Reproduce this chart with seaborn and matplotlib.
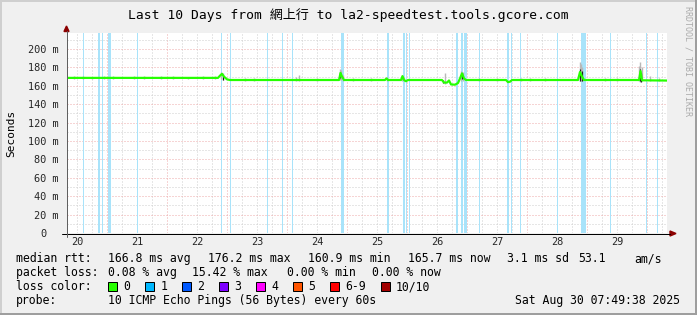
import matplotlib
matplotlib.use("Agg")
import matplotlib.pyplot as plt
import seaborn as sns
import pandas as pd
from matplotlib.patches import Rectangle, Polygon
from matplotlib.lines import Line2D

# ---------------- data ----------------
title_text = "Last 10 Days from 網上行 to la2-speedtest.tools.gcore.com"

# median round-trip time (day of August, ms)
median_day = [20.333, 22.85, 22.883, 22.917, 22.95, 23.0, 23.05, 24.867, 24.892, 24.917,
              24.95, 25.633, 25.658, 25.683, 25.9, 25.925, 25.95, 25.983, 26.017, 26.583,
              26.617, 26.667, 26.7, 26.733, 26.8, 26.85, 26.883, 26.917, 26.95, 26.983,
              27.65, 27.683, 27.717, 27.75, 28.85, 28.883, 28.917, 28.95, 29.867, 29.892,
              29.917, 30.333]
median_ms = [168.6, 168.6, 171.0, 173.0, 170.0, 167.0, 166.3, 166.3, 174.0, 170.0,
             166.3, 166.3, 168.0, 166.3, 166.3, 170.5, 166.3, 165.0, 166.3, 166.3,
             163.5, 163.5, 165.8, 161.5, 161.2, 163.0, 168.0, 173.5, 168.0, 166.3,
             166.3, 164.0, 164.5, 166.3, 166.3, 175.0, 170.0, 166.3, 166.3, 176.0,
             166.0, 165.7]

# smoke (spread of the individual pings)
smoke_day = [20.45, 20.6, 20.75, 20.95, 21.1, 21.45, 21.62, 21.9, 22.1, 22.35, 22.6, 22.8,
             22.9, 22.93, 23.3, 23.45, 24.15, 24.2, 24.5, 24.88, 24.9, 24.93, 25.1, 25.4,
             25.66, 25.92, 25.95, 26.64, 26.9, 26.93, 27.2, 27.5, 27.9, 28.05, 28.3, 28.88,
             28.9, 28.92, 29.3, 29.5, 29.87, 29.89, 29.91, 30.05, 30.2]
smoke_hi = [170.5, 171.0, 170.0, 171.0, 170.5, 170.5, 171.0, 170.5, 170.5, 170.0, 170.5, 171.0,
            175.0, 174.0, 168.5, 168.5, 170.0, 171.5, 168.5, 178.0, 177.0, 172.0, 168.5, 168.0,
            170.0, 172.0, 170.0, 174.0, 176.0, 175.0, 168.5, 168.0, 168.5, 168.5, 168.0, 186.0,
            184.0, 180.0, 169.0, 168.5, 182.0, 186.0, 180.0, 171.0, 168.5]
smoke_lo = [167.5, 167.5, 167.5, 167.5, 167.5, 167.5, 167.5, 167.5, 167.5, 167.5, 167.5, 167.5,
            167.0, 166.5, 165.5, 165.5, 165.5, 165.5, 165.5, 166.0, 166.0, 165.5, 165.5, 165.5,
            165.5, 165.5, 165.5, 162.0, 165.0, 165.0, 165.5, 165.5, 165.5, 165.5, 165.5, 165.0,
            165.0, 165.0, 165.5, 165.5, 165.0, 164.5, 165.0, 165.0, 165.0]

# dense core of the smoke at the spikes
core_day = [22.93, 24.89, 26.6, 26.92, 28.88, 28.91, 29.88, 29.9]
core_lo = [166.5, 168.5, 163.0, 167.0, 165.0, 165.0, 165.0, 164.0]
core_hi = [171.0, 174.5, 166.0, 174.0, 178.0, 176.0, 178.0, 174.0]

# periods with packet loss (start day, duration in minutes)
loss_day = [20.605, 20.842, 20.922, 21.02, 21.5, 22.905, 23.055, 23.672, 23.922, 24.088,
            24.905, 25.664, 25.93, 25.983, 26.03, 26.814, 26.897, 26.955, 27.205, 27.664,
            27.733, 27.888, 28.5, 28.9, 29.388, 29.978, 30.17]
loss_minutes = [24, 48, 24, 72, 24, 24, 24, 24, 24, 24,
                72, 48, 48, 24, 24, 48, 48, 60, 24, 48,
                24, 24, 24, 120, 24, 24, 24]

y_ticks = [0, 20, 40, 60, 80, 100, 120, 140, 160, 180, 200]
y_tick_labels = ["0  ", "20 m", "40 m", "60 m", "80 m", "100 m", "120 m", "140 m",
                 "160 m", "180 m", "200 m"]
day_ticks = [20.5, 21.5, 22.5, 23.5, 24.5, 25.5, 26.5, 27.5, 28.5, 29.5]
day_labels = ["20", "21", "22", "23", "24", "25", "26", "27", "28", "29"]

loss_levels = ["0", "1", "2", "3", "4", "5", "6-9", "10/10"]
loss_colors = ["#26ff00", "#00b8ff", "#0059ff", "#7e00ff", "#ff00ff", "#ff5500", "#ff0000", "#a10000"]

rtt_stats = ["median rtt:", "166.8 ms avg", "176.2 ms max", "160.9 ms min", "165.7 ms now",
             "3.1 ms sd", "53.1", "am/s"]
loss_stats = ["packet loss:", "0.08 % avg", "15.42 % max", "0.00 % min", "0.00 % now"]
probe_text = ["probe:", "10 ICMP Echo Pings (56 Bytes) every 60s"]
date_text = "Sat Aug 30 07:49:38 2025"
watermark = "RRDTOOL / TOBI OETIKER"

# ---------------- layout ----------------
W, H = 697, 315
PX = 0.72  # one pixel in points at dpi 100


def fx(p):
    return p / W


def fy(p):
    return 1 - p / H


sns.set_style("white")
plt.rcParams["font.family"] = ["DejaVu Sans Mono", "Noto Sans CJK TC"]
plt.rcParams["text.color"] = "black"

fig = plt.figure(figsize=(W / 100, H / 100), dpi=100, facecolor="#f0f0f0")
ax_l, ax_r, ax_t, ax_b = 67, 667, 33, 233
ax = fig.add_axes([fx(ax_l), fy(ax_b), (ax_r - ax_l) / W, (ax_b - ax_t) / H])
ax.set_facecolor("white")
ymax = (ax_b - ax_t) / 0.92
ax.set_xlim(20.3333, 30.3333)
ax.set_ylim(0, ymax)

# grid
grid_gray = "#cfcfcf"
grid_red = "#eeaaaa"
dots = (0, (1.0, 2.0))
k = 0
while 20.25 + 0.25 * k < 30.34:
    xv = 20.25 + 0.25 * k
    if xv > 20.34:
        major = abs(xv - round(xv)) < 1e-6
        ax.axvline(xv, color=grid_red if major else grid_gray, lw=PX, ls=dots, zorder=0.5)
    k += 1
for yv in range(10, int(ymax) + 1, 10):
    ax.axhline(yv, color=grid_red if yv % 20 == 0 else grid_gray, lw=PX, ls=dots, zorder=0.5)

# loss bands
for d, m in zip(loss_day, loss_minutes):
    ax.axvspan(d, d + m / 1440.0, color="#a9e3fa", lw=0, zorder=1)

# smoke
ax.vlines(smoke_day, smoke_lo, smoke_hi, color="#b8b8b8", lw=1.4 * PX, zorder=2)
ax.vlines(core_day, core_lo, core_hi, color="#202020", lw=1.2 * PX, zorder=2.5)

# median line
df = pd.DataFrame({"day": median_day, "rtt": median_ms})
sns.lineplot(data=df, x="day", y="rtt", ax=ax, color=loss_colors[0], lw=2.2 * PX,
             zorder=3, sort=False)
ax.set_xlabel("")
ax.set_ylabel("")

# ticks
for s in ax.spines.values():
    s.set_visible(False)
ax.set_yticks(y_ticks)
ax.set_yticklabels(y_tick_labels)
ax.set_xticks(day_ticks)
ax.set_xticklabels(day_labels)
ax.tick_params(axis="y", which="major", length=2 * PX, width=PX, color="#d08080",
               pad=6 * PX, labelsize=7.4, direction="out")
ax.tick_params(axis="x", which="major", length=0, pad=4 * PX, labelsize=7.4)
ax.set_xticks([d + 0.0 for d in range(21, 31)], minor=True)
ax.tick_params(axis="x", which="minor", length=2 * PX, width=PX, color="#d08080",
               direction="out")
for lab in ax.get_yticklabels() + ax.get_xticklabels():
    lab.set_family("DejaVu Sans Mono")

# axis lines with arrows
fig.add_artist(Line2D([fx(62), fx(670)], [fy(233.5), fy(233.5)], color="black", lw=PX,
                      transform=fig.transFigure))
fig.add_artist(Polygon([[fx(670), fy(231)], [fx(676), fy(233.5)], [fx(670), fy(236)]],
                       closed=True, color="#8b0000", transform=fig.transFigure))
fig.add_artist(Line2D([fx(66.5), fx(66.5)], [fy(237), fy(31)], color="#606060", lw=PX,
                      transform=fig.transFigure))
fig.add_artist(Polygon([[fx(64), fy(31.5)], [fx(66.5), fy(26)], [fx(69), fy(31.5)]],
                       closed=True, color="#8b0000", transform=fig.transFigure))

# title, axis label, watermark
fig.text(fx(348.5), fy(15), title_text, ha="center", va="center", fontsize=9.4,
         family=["DejaVu Sans Mono", "Noto Sans CJK TC"])
fig.text(fx(11), fy(133), "Seconds", ha="center", va="center", rotation=90, fontsize=8)
fig.text(fx(688), fy(61), watermark, ha="center", va="center", rotation=270,
         fontsize=6, color="#ababab")

# legend block
LS = 8.3
x1 = [16, 107.6, 207.6, 308, 408, 507, 578, 634]
for xp, t in zip(x1, rtt_stats):
    fig.text(fx(xp), fy(258.5), t, ha="left", va="center", fontsize=LS)
x2 = [16, 107.6, 192, 286.7, 372.4]
for xp, t in zip(x2, loss_stats):
    fig.text(fx(xp), fy(272.5), t, ha="left", va="center", fontsize=LS)
fig.text(fx(16), fy(286.5), "loss color:", ha="left", va="center", fontsize=LS)
box_x = [108, 145.3, 182.2, 219, 256.4, 293.3, 330, 381]
for bx, lab, col in zip(box_x, loss_levels, loss_colors):
    fig.add_artist(Rectangle((fx(bx), fy(291)), 8.5 / W, 9 / H, facecolor=col,
                             edgecolor="black", lw=PX, transform=fig.transFigure))
    fig.text(fx(bx + 15), fy(286.5), lab, ha="left", va="center", fontsize=LS)
fig.text(fx(16), fy(300.5), probe_text[0], ha="left", va="center", fontsize=LS)
fig.text(fx(107.6), fy(300.5), probe_text[1], ha="left", va="center", fontsize=LS)
fig.text(fx(680), fy(300.5), date_text, ha="right", va="center", fontsize=LS)

# frame shading
fig.add_artist(Rectangle((0, fy(2)), 1, 2 / H, color="#cfcfcf", lw=0, transform=fig.transFigure))
fig.add_artist(Rectangle((0, 0), 2 / W, 1, color="#cfcfcf", lw=0, transform=fig.transFigure))
fig.add_artist(Rectangle((0, 0), 1, 2 / H, color="#9e9e9e", lw=0, transform=fig.transFigure))
fig.add_artist(Rectangle((fx(695), 0), 2 / W, 1, color="#9e9e9e", lw=0, transform=fig.transFigure))

fig.savefig("out.png", dpi=100, facecolor=fig.get_facecolor())
